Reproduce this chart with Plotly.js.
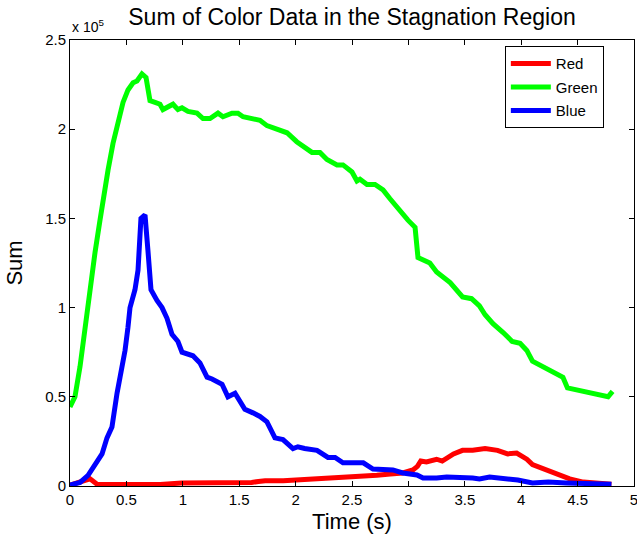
<!DOCTYPE html>
<html>
<head>
<meta charset="utf-8">
<script src="https://cdn.plot.ly/plotly-3.0.1.min.js"></script>
<style>html,body{margin:0;padding:0;background:#fff;}#chart{width:637px;height:539px;}</style>
</head>
<body>
<div id="chart"></div>
<script>
// values in units of 10^5
var tRed = [0, 0.071, 0.177, 0.24, 0.5, 0.64, 0.8, 0.99, 1.19, 1.43, 1.61, 1.67, 1.73, 1.89, 2.19, 2.39, 2.57, 2.72, 2.84, 2.95, 3.04, 3.08, 3.11, 3.16, 3.25, 3.30, 3.40, 3.48, 3.57, 3.68, 3.79, 3.88, 3.96, 4.05, 4.10, 4.23, 4.34, 4.43, 4.55, 4.67, 4.80];
var red = [0.005, 0.02, 0.04, 0.01, 0.008, 0.004, 0.008, 0.017, 0.017, 0.02, 0.02, 0.025, 0.03, 0.03, 0.04, 0.05, 0.05, 0.06, 0.067, 0.073, 0.09, 0.11, 0.14, 0.135, 0.15, 0.14, 0.18, 0.20, 0.20, 0.21, 0.20, 0.18, 0.185, 0.15, 0.12, 0.09, 0.067, 0.04, 0.022, 0.017, 0.01];

var tGreen = [0, 0.044, 0.089, 0.133, 0.177, 0.222, 0.266, 0.31, 0.337, 0.381, 0.426, 0.47, 0.514, 0.559, 0.594, 0.638, 0.674, 0.709, 0.754, 0.798, 0.824, 0.913, 0.957, 0.993, 1.046, 1.126, 1.179, 1.241, 1.312, 1.356, 1.436, 1.489, 1.534, 1.596, 1.684, 1.746, 1.835, 1.924, 2.01, 2.145, 2.216, 2.278, 2.367, 2.42, 2.5, 2.544, 2.571, 2.633, 2.704, 2.775, 2.837, 2.926, 2.996, 3.059, 3.085, 3.19, 3.25, 3.37, 3.48, 3.56, 3.63, 3.68, 3.75, 3.84, 3.92, 3.99, 4.05, 4.10, 4.19, 4.28, 4.37, 4.41, 4.55, 4.70, 4.77, 4.81];
var green = [0.443, 0.50, 0.67, 0.89, 1.10, 1.31, 1.49, 1.68, 1.77, 1.92, 2.03, 2.15, 2.22, 2.26, 2.27, 2.31, 2.29, 2.16, 2.15, 2.14, 2.11, 2.14, 2.11, 2.12, 2.10, 2.09, 2.06, 2.06, 2.09, 2.07, 2.09, 2.09, 2.07, 2.06, 2.05, 2.02, 2.00, 1.98, 1.93, 1.87, 1.87, 1.83, 1.80, 1.80, 1.76, 1.71, 1.72, 1.69, 1.69, 1.66, 1.61, 1.54, 1.49, 1.45, 1.28, 1.25, 1.20, 1.14, 1.06, 1.05, 1.01, 0.96, 0.91, 0.86, 0.81, 0.80, 0.76, 0.70, 0.67, 0.64, 0.61, 0.55, 0.53, 0.51, 0.50, 0.53];

var tBlue = [0, 0.089, 0.16, 0.222, 0.284, 0.328, 0.372, 0.417, 0.443, 0.488, 0.514, 0.532, 0.576, 0.603, 0.629, 0.665, 0.691, 0.718, 0.771, 0.816, 0.86, 0.904, 0.957, 0.993, 1.09, 1.152, 1.215, 1.259, 1.348, 1.40, 1.463, 1.55, 1.622, 1.684, 1.746, 1.817, 1.888, 1.977, 2.02, 2.08, 2.19, 2.287, 2.35, 2.42, 2.6, 2.686, 2.863, 2.95, 3.076, 3.13, 3.25, 3.34, 3.57, 3.63, 3.72, 3.87, 3.97, 4.10, 4.24, 4.40, 4.61, 4.80];
var blue = [0.005, 0.02, 0.06, 0.12, 0.18, 0.27, 0.33, 0.52, 0.61, 0.76, 0.89, 1.00, 1.10, 1.21, 1.50, 1.52, 1.32, 1.10, 1.04, 1.00, 0.94, 0.85, 0.81, 0.75, 0.73, 0.69, 0.61, 0.60, 0.57, 0.50, 0.52, 0.43, 0.41, 0.39, 0.36, 0.27, 0.26, 0.21, 0.22, 0.21, 0.20, 0.16, 0.16, 0.13, 0.13, 0.095, 0.09, 0.073, 0.062, 0.045, 0.045, 0.05, 0.045, 0.04, 0.05, 0.04, 0.034, 0.017, 0.022, 0.017, 0.01, 0.01];

var seriesNames = ['Red', 'Green', 'Blue'];
var xTicks = [0, 0.5, 1, 1.5, 2, 2.5, 3, 3.5, 4, 4.5, 5];
var xTickText = ['0', '0.5', '1', '1.5', '2', '2.5', '3', '3.5', '4', '4.5', '5'];
var yTicks = [0, 0.5, 1, 1.5, 2, 2.5];
var yTickText = ['0', '0.5', '1', '1.5', '2', '2.5'];

var FONT = 'Liberation Sans, Arial, sans-serif';
var traces = [
  {x: tRed, y: red, name: seriesNames[0], legendgroup: 'r', mode: 'lines', line: {color: '#ff0000', width: 5}},
  {x: tGreen, y: green, name: seriesNames[1], legendgroup: 'g', mode: 'lines', line: {color: '#00ff00', width: 5}},
  {x: tBlue, y: blue, name: seriesNames[2], legendgroup: 'b', mode: 'lines', line: {color: '#0000ff', width: 5}}
];
var axisCommon = {
  showgrid: false, zeroline: false, showline: true, linecolor: '#000', linewidth: 1,
  mirror: 'ticks', ticks: 'inside', ticklen: 5, tickcolor: '#000', tickwidth: 1,
  ticklabeloverflow: 'allow',
  tickfont: {family: FONT, size: 15, color: '#000'}
};
var layout = {
  width: 637, height: 539,
  margin: {l: 70, r: 3, t: 40, b: 53},
  paper_bgcolor: '#fff', plot_bgcolor: '#fff',
  font: {family: FONT, color: '#000'},
  title: {text: 'Sum of Color Data in the Stagnation Region', font: {family: FONT, size: 23, color: '#000'},
    xref: 'paper', x: 0.5, xanchor: 'center', yref: 'container', y: 0.984, yanchor: 'top'},
  xaxis: Object.assign({}, axisCommon, {range: [0, 5], tickmode: 'array', tickvals: xTicks, ticktext: xTickText,
    title: {text: 'Time (s)', font: {family: FONT, size: 22, color: '#000'}, standoff: 6}}),
  yaxis: Object.assign({}, axisCommon, {range: [0, 2.5], tickmode: 'array', tickvals: yTicks, ticktext: yTickText,
    title: {text: 'Sum', font: {family: FONT, size: 22, color: '#000'}, standoff: 16}}),
  showlegend: true,
  legend: {x: 0.771, y: 0.986, xanchor: 'left', yanchor: 'top', bordercolor: '#000', borderwidth: 1, bgcolor: '#fff',
    font: {family: FONT, size: 15, color: '#000'}, tracegroupgap: 1, itemwidth: 40},
  annotations: [{text: 'x 10<sup>5</sup>', xref: 'paper', yref: 'paper', x: 0, y: 1, xanchor: 'left', yanchor: 'bottom', yshift: 3, showarrow: false,
    font: {family: FONT, size: 14, color: '#000'}}]
};
Plotly.newPlot('chart', traces, layout, {displayModeBar: false, staticPlot: true});
</script>
</body>
</html>
